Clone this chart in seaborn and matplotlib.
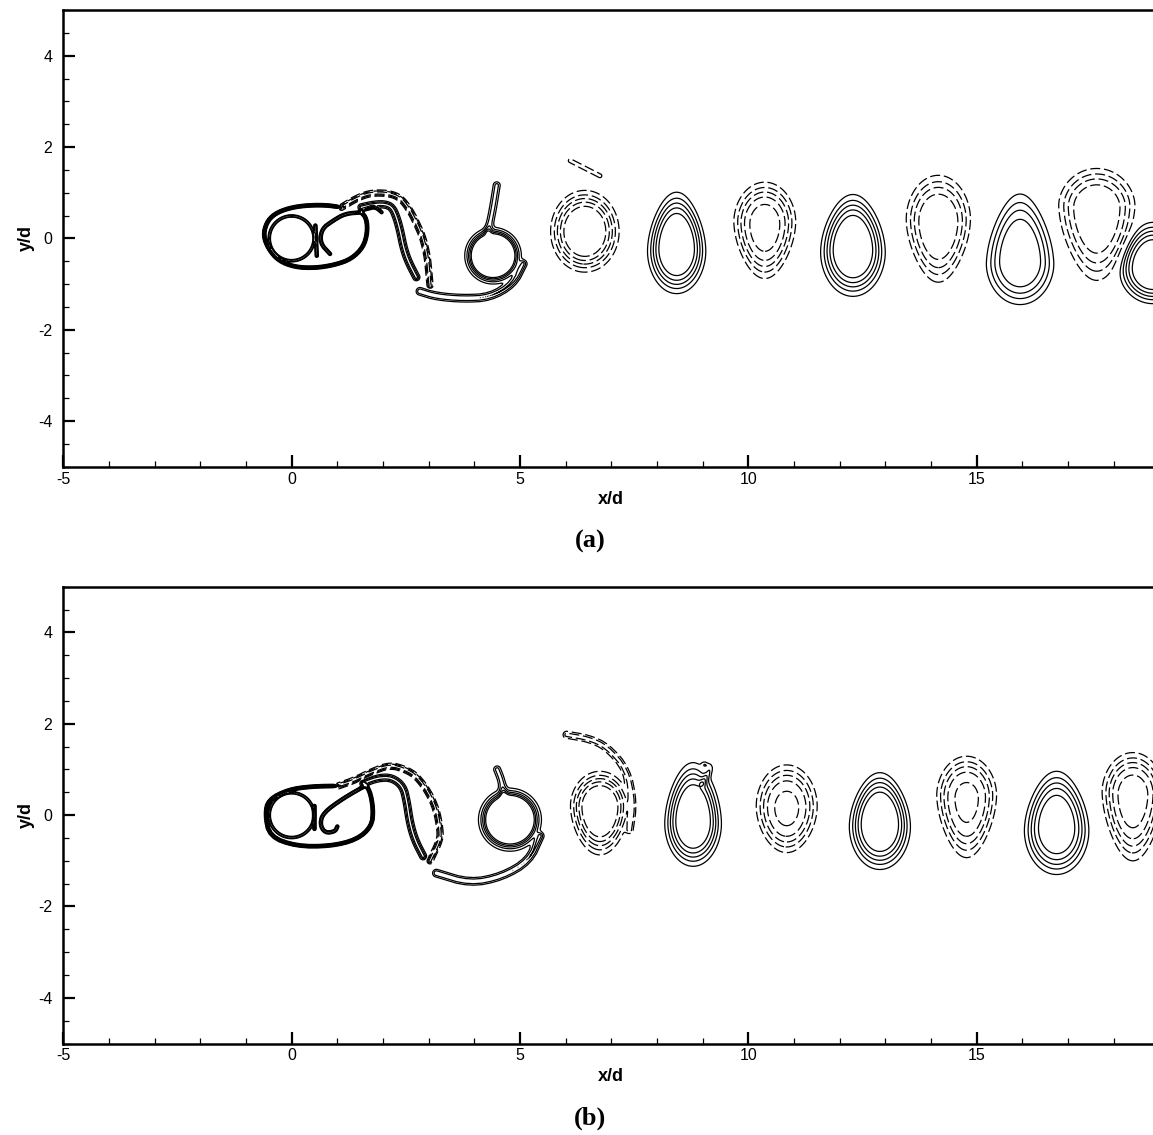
import numpy as np
import matplotlib
matplotlib.use("Agg")
import matplotlib.pyplot as plt
import seaborn as sns
from matplotlib.ticker import MultipleLocator

# ---------------- data ----------------
LEVELS = [-5, -4, -3, -2, -1, 1, 2, 3, 4, 5]
X_TICKS = [-5, 0, 5, 10, 15]
Y_TICKS = [-4, -2, 0, 2, 4]
PANEL_LABELS = ["(a)", "(b)"]

# shed vortices: centre, peak vorticity, half-width, upper/lower extent, egg taper
A_VX = [6.42, 8.43, 10.36, 12.29, 14.16, 15.95, 17.63, 18.86, 4.41]
A_VY = [0.15, -0.19, 0.28, -0.22, 0.32, -0.45, 0.61, -0.63, -0.38]
A_AMP = [-6.5, 6.5, -5.5, 6.5, -5.0, 5.0, -5.0, 6.5, 12.0]
A_RX = [0.75, 0.66, 0.70, 0.73, 0.73, 0.77, 0.87, 0.76, 0.62]
A_RTOP = [0.90, 1.20, 0.95, 1.18, 1.06, 1.42, 0.92, 0.98, 0.62]
A_RBOT = [0.89, 1.02, 1.16, 1.05, 1.28, 1.00, 1.53, 0.80, 0.62]
A_TAPER = [0.0, 0.22, -0.22, 0.2, -0.25, 0.28, -0.28, 0.15, 0.0]

B_VX = [6.75, 8.79, 10.84, 12.88, 14.78, 16.75, 18.42, 4.78]
B_VY = [0.15, -0.10, 0.15, -0.17, 0.34, -0.25, 0.41, -0.10]
B_AMP = [-6.5, 6.5, -5.2, 6.5, -5.2, 6.0, -5.5, 12.0]
B_RX = [0.66, 0.64, 0.68, 0.69, 0.68, 0.73, 0.70, 0.69]
B_RTOP = [0.81, 1.25, 0.95, 1.10, 0.95, 1.21, 0.96, 0.69]
B_RBOT = [1.02, 1.02, 0.97, 1.02, 1.27, 1.05, 1.41, 0.69]
B_TAPER = [-0.15, 0.2, -0.12, 0.2, -0.25, 0.22, -0.25, 0.0]

# near-wake vortex sheets (polylines), their peak vorticity and thickness
A_LOOP = [(1.09, 0.68), (0.73, 0.73), (0.29, 0.72), (-0.07, 0.66), (-0.37, 0.54), (-0.55, 0.35),
          (-0.62, 0.06), (-0.51, -0.23), (-0.29, -0.49), (0.07, -0.63), (0.51, -0.65),
          (0.95, -0.58), (1.31, -0.45), (1.57, -0.19), (1.66, 0.13), (1.64, 0.43), (1.53, 0.57)]
A_LOBE = [(1.53, 0.57), (1.17, 0.54), (0.91, 0.39), (0.66, 0.21), (0.62, -0.1), (0.84, -0.34)]
A_BASE = [(0.52, 0.28), (0.55, -0.38)]
A_HOOK = [(1.53, 0.62), (1.68, 0.66), (1.82, 0.70), (1.97, 0.57)]
A_SHEAR_OUT = [(1.09, 0.68), (1.39, 0.86), (1.65, 0.97), (1.9, 1.0), (2.2, 0.97), (2.41, 0.86),
               (2.6, 0.6), (2.75, 0.3), (2.88, 0.0), (2.97, -0.4), (3.0, -0.7), (3.03, -1.03)]
A_SHEAR_IN = [(1.53, 0.68), (1.8, 0.74), (2.04, 0.75), (2.2, 0.68), (2.3, 0.45), (2.38, 0.15),
              (2.45, -0.2), (2.55, -0.5), (2.73, -0.85)]
A_TIP = [(4.3, 0.15), (4.4, 0.6), (4.49, 1.16)]
A_TAIL = [(5.07, -0.56), (4.85, -1.0), (4.34, -1.29), (3.76, -1.32), (3.17, -1.27), (2.81, -1.16)]
A_STREAK = [(6.1, 1.7), (6.75, 1.37)]
A_SHEETS = [A_LOOP, A_LOBE, A_BASE, A_HOOK, A_SHEAR_OUT, A_SHEAR_IN, A_TIP, A_TAIL, A_STREAK]
A_SHEET_AMP = [5.0, 4.0, 4.0, 3.0, -3.5, 3.5, 2.5, 3.0, -1.6]
A_SHEET_W = [0.03, 0.03, 0.03, 0.03, 0.06, 0.07, 0.08, 0.08, 0.06]

B_LOOP = [(1.02, 0.64), (0.44, 0.63), (-0.07, 0.56), (-0.51, 0.34), (-0.58, 0.01),
          (-0.48, -0.47), (0.1, -0.68), (0.84, -0.68), (1.42, -0.54), (1.75, -0.25),
          (1.79, 0.12), (1.71, 0.55), (1.57, 0.70)]
B_LOBE = [(1.64, 0.66), (1.13, 0.37), (0.69, 0.05), (0.62, -0.2), (0.73, -0.39),
          (0.95, -0.36), (1.0, -0.25)]
B_BASE = [(0.5, 0.2), (0.5, -0.3)]
B_SHEAR_OUT = [(1.02, 0.64), (1.39, 0.77), (1.75, 0.95), (2.15, 1.1), (2.5, 1.0), (2.74, 0.85),
               (3.0, 0.5), (3.17, 0.12), (3.25, -0.3), (3.25, -0.54), (3.03, -1.0)]
B_SHEAR_IN = [(1.57, 0.70), (1.9, 0.82), (2.2, 0.82), (2.44, 0.63), (2.52, 0.3), (2.59, -0.17),
              (2.7, -0.55), (2.88, -0.9)]
B_TIP = [(4.65, 0.4), (4.6, 0.75), (4.5, 1.0)]
B_TAIL = [(5.44, -0.46), (5.2, -1.0), (4.6, -1.35), (3.9, -1.49), (3.17, -1.27)]
B_ARC = [(6.02, 1.76), (6.5, 1.68), (6.9, 1.5), (7.34, 1.0), (7.48, 0.27), (7.4, -0.32)]
B_HOOK = [(9.0, 0.7), (9.2, 1.05), (9.05, 1.1)]
B_SHEETS = [B_LOOP, B_LOBE, B_BASE, B_SHEAR_OUT, B_SHEAR_IN, B_TIP, B_TAIL, B_ARC, B_HOOK]
B_SHEET_AMP = [5.0, 4.0, 4.0, -3.5, 3.5, 2.5, 3.0, -2.5, 1.6]
B_SHEET_W = [0.03, 0.03, 0.03, 0.06, 0.07, 0.08, 0.08, 0.08, 0.07]

CYLINDER = (0.0, 0.0, 0.49)   # centre x, centre y, radius
CYL_AMP, CYL_W = 3.0, 0.025

# ---------------- field construction ----------------
gx = np.arange(-1.5, 19.3, 0.01)
gy = np.arange(-2.6, 2.6, 0.01)
X, Y = np.meshgrid(gx, gy)


def vortex_field(xc, yc, amp, rx, rtop, rbot, taper):
    dy = Y - yc
    s = 0.5 * (1 + np.tanh(dy / 0.15))
    v = dy / (rbot + (rtop - rbot) * s)
    sv = np.sign(taper) * v
    soft = 0.5 * (sv + np.sqrt(sv * sv + 0.12))
    fac = np.clip(1.0 - abs(taper) * soft, 0.3, 1.0)
    u = (X - xc) / (rx * fac)
    rho4 = (u * u + v * v) ** 2
    return amp * np.exp(-np.log(abs(amp)) * rho4)


def rounded(pts, passes=2):
    """Chaikin corner rounding so the sheet is drawn as a smooth curve."""
    p = np.asarray(pts, float)
    for _ in range(passes):
        q = 0.75 * p[:-1] + 0.25 * p[1:]
        r = 0.25 * p[:-1] + 0.75 * p[1:]
        mid = np.empty((2 * len(q), 2))
        mid[0::2], mid[1::2] = q, r
        p = np.vstack([p[:1], mid, p[-1:]])
    return p


def sheet_field(pts, amp, w):
    pts = rounded(pts)
    Z = np.zeros_like(X)
    pad = 5 * w
    ix = (gx >= pts[:, 0].min() - pad) & (gx <= pts[:, 0].max() + pad)
    iy = (gy >= pts[:, 1].min() - pad) & (gy <= pts[:, 1].max() + pad)
    xs, ys = np.meshgrid(gx[ix], gy[iy])
    d2 = np.full(xs.shape, np.inf)
    for (x0, y0), (x1, y1) in zip(pts[:-1], pts[1:]):
        dx, dy = x1 - x0, y1 - y0
        L2 = max(dx * dx + dy * dy, 1e-12)
        t = np.clip(((xs - x0) * dx + (ys - y0) * dy) / L2, 0, 1)
        dd = (xs - x0 - t * dx) ** 2 + (ys - y0 - t * dy) ** 2
        d2 = np.minimum(d2, dd)
    Z[np.ix_(iy, ix)] = amp * np.exp(-d2 / (w * w))
    return Z


def build(vx, vy, amp, rx, rtop, rbot, taper, sheets, s_amp, s_w):
    Z = np.zeros_like(X)
    for p in zip(vx, vy, amp, rx, rtop, rbot, taper):
        Z += vortex_field(*p)
    for pts, a, w in zip(sheets, s_amp, s_w):
        Z += sheet_field(pts, a, w)
    cx, cy, R = CYLINDER
    r = np.hypot(X - cx, Y - cy)
    Z += CYL_AMP * np.exp(-((r - R) / CYL_W) ** 2)
    return Z


ZA = build(A_VX, A_VY, A_AMP, A_RX, A_RTOP, A_RBOT, A_TAPER, A_SHEETS, A_SHEET_AMP, A_SHEET_W)
ZB = build(B_VX, B_VY, B_AMP, B_RX, B_RTOP, B_RBOT, B_TAPER, B_SHEETS, B_SHEET_AMP, B_SHEET_W)

# ---------------- plotting ----------------
sns.set_theme(style="ticks")
plt.rcParams["font.family"] = ["Liberation Sans", "DejaVu Sans"]
plt.rcParams["axes.unicode_minus"] = False
for k in ["text.color", "axes.labelcolor", "xtick.color", "ytick.color", "axes.edgecolor"]:
    plt.rcParams[k] = "black"

fig = plt.figure(figsize=(11.53, 11.35), dpi=100)
W, H = 1153.0, 1135.0
ax_left = 63.3 / W
ax_w = (24 * 45.67) / W
ax_h = (10 * 45.67) / H
axA = fig.add_axes([ax_left, 1 - 466.7 / H, ax_w, ax_h])
axB = fig.add_axes([ax_left, 1 - 1043.5 / H, ax_w, ax_h])

styles = [(0, (8, 3)) if l < 0 else "solid" for l in LEVELS]

for ax, Z, lab, ylab in [(axA, ZA, PANEL_LABELS[0], 541.7), (axB, ZB, PANEL_LABELS[1], 1118.0)]:
    ax.set_facecolor("white")
    ax.contour(X, Y, Z, levels=LEVELS, colors="black", linewidths=0.9, linestyles=styles)
    ax.set_xlim(-5, 19)
    ax.set_ylim(-5, 5)
    ax.set_xticks(X_TICKS)
    ax.set_yticks(Y_TICKS)
    ax.xaxis.set_minor_locator(MultipleLocator(1))
    ax.yaxis.set_minor_locator(MultipleLocator(0.5))
    ax.tick_params(which="major", direction="in", length=8.5, width=1.6, labelsize=11.5,
                   colors="black", top=False, right=False)
    ax.tick_params(which="minor", direction="in", length=4.3, width=0.9,
                   top=False, right=False)
    ax.tick_params(axis="x", which="major", pad=3.5)
    ax.tick_params(axis="y", which="major", pad=8)
    for s in ax.spines.values():
        s.set_linewidth(1.8)
        s.set_color("black")
    ax.set_xlabel("x/d", fontsize=13, fontweight="bold", labelpad=3, color="black")
    ax.set_ylabel("y/d", fontsize=13, fontweight="bold", labelpad=2, color="black")
    fig.text(590 / W, 1 - ylab / H, lab, ha="center", va="center", color="black",
             fontsize=19, fontweight="bold", family=["Liberation Serif", "DejaVu Serif"])

fig.savefig("out.png", dpi=100)
